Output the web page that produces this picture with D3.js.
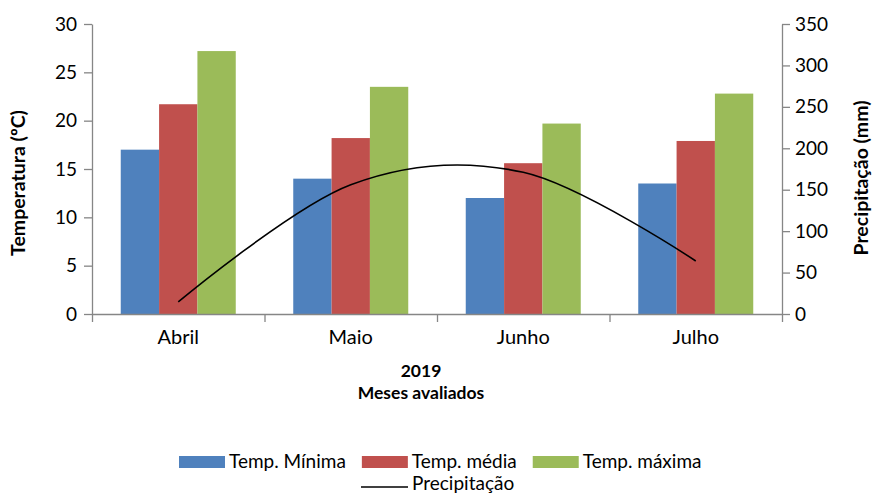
<html>
  <head>
    <script src="https://d3js.org/d3.v7.min.js"></script>
    <style>
      body { margin: 0; background: #fff; }
      text { font-family: Lato, "Open Sans", sans-serif; fill: #000; }
    </style>
  </head>
  <body>
    <svg width="872" height="493" id="chart"></svg>
    <script>
      // data
      const months = ["Abril", "Maio", "Junho", "Julho"];
      const series = ["Temp. Mínima", "Temp. média", "Temp. máxima"];
      const tempMin = [17, 14, 12, 13.5];
      const tempMed = [21.7, 18.2, 15.6, 17.9];
      const tempMax = [27.2, 23.5, 19.7, 22.8];
      const precip = [14.5, 156, 171, 64];
      const colors = ["#4F81BD", "#C0504D", "#9BBB59"];
      const tempTicks = [0, 5, 10, 15, 20, 25, 30];
      const precipTicks = [0, 50, 100, 150, 200, 250, 300, 350];
      const xTitle = ["2019", "Meses avaliados"];

      const svg = d3.select("svg#chart");
      const plotLeft = 92, plotRight = 782, plotTop = 24, plotBottom = 314;
      const axisColor = "#868686";

      const x = d3
        .scaleBand()
        .domain(months)
        .range([plotLeft, plotRight])
        .paddingInner(1 / 3)
        .paddingOuter(1 / 6);
      const xSub = d3.scaleBand().domain(series).range([0, x.bandwidth()]);
      const xEdges = d3.scaleLinear().domain([0, months.length]).range([plotLeft, plotRight]);

      const yTemp = d3.scaleLinear().domain([0, 30]).range([plotBottom, plotTop]);
      const yPrec = d3.scaleLinear().domain([0, 350]).range([plotBottom, plotTop]);

      // bars
      const rows = months.map((m, i) => ({
        month: m,
        values: [tempMin[i], tempMed[i], tempMax[i]],
      }));
      rows.forEach((r) => {
        r.values.forEach((v, j) => {
          svg
            .append("rect")
            .attr("x", x(r.month) + xSub(series[j]))
            .attr("y", yTemp(v))
            .attr("width", xSub.bandwidth())
            .attr("height", yTemp(0) - yTemp(v))
            .attr("fill", colors[j]);
        });
      });

      // precipitation curve
      const line = d3
        .line()
        .x((d, i) => x(months[i]) + x.bandwidth() / 2)
        .y((d) => yPrec(d))
        .curve(d3.curveCatmullRom.alpha(0));
      svg
        .append("path")
        .attr("d", line(precip))
        .attr("fill", "none")
        .attr("stroke", "#000")
        .attr("stroke-width", 1.6);

      function styleAxis(g) {
        g.select(".domain").attr("stroke", axisColor).attr("stroke-width", 1.3);
        g.selectAll(".tick line").attr("stroke", axisColor).attr("stroke-width", 1.3);
        g.selectAll("text").style("font-size", "19px").attr("fill", "#222");
      }

      // left axis
      svg
        .append("g")
        .attr("transform", `translate(${plotLeft},0)`)
        .call(d3.axisLeft(yTemp).tickValues(tempTicks).tickSize(8).tickSizeOuter(0).tickPadding(7))
        .call(styleAxis);

      // right axis
      svg
        .append("g")
        .attr("transform", `translate(${plotRight},0)`)
        .call(d3.axisRight(yPrec).tickValues(precipTicks).tickSize(8).tickSizeOuter(0).tickPadding(5))
        .call(styleAxis);

      // x axis line with boundary ticks
      svg
        .append("g")
        .attr("transform", `translate(0,${plotBottom})`)
        .call(d3.axisBottom(xEdges).ticks(months.length).tickFormat("").tickSize(8).tickSizeOuter(0))
        .call(styleAxis);

      // category labels
      svg
        .append("g")
        .attr("transform", `translate(0,${plotBottom})`)
        .call(d3.axisBottom(x).tickSize(0).tickPadding(16))
        .call((g) => g.select(".domain").remove())
        .call(styleAxis)
        .call((g) => g.selectAll("text").style("font-size", "20px"));

      // axis titles
      svg
        .append("text")
        .attr("transform", "translate(25,183) rotate(-90)")
        .attr("text-anchor", "middle")
        .style("font-size", "19.5px")
        .style("font-weight", "bold")
        .text("Temperatura (ºC)");
      svg
        .append("text")
        .attr("transform", "translate(868,178) rotate(-90)")
        .attr("text-anchor", "middle")
        .style("font-size", "19.5px")
        .style("font-weight", "bold")
        .text("Precipitação (mm)");

      // two-line x title
      xTitle.forEach((s, i) => {
        svg
          .append("text")
          .attr("x", 421)
          .attr("y", 377 + i * 22)
          .attr("text-anchor", "middle")
          .style("font-size", "17.5px")
          .style("font-weight", "bold")
          .text(s);
      });

      // legend row 1: bars
      const legend = svg.append("g");
      let lx = 179;
      series.forEach((s, j) => {
        legend
          .append("rect")
          .attr("x", lx)
          .attr("y", 456)
          .attr("width", 46)
          .attr("height", 12)
          .attr("fill", colors[j]);
        const t = legend
          .append("text")
          .attr("x", lx + 50)
          .attr("y", 468)
          .style("font-size", "19px")
          .attr("fill", "#222")
          .text(s);
        lx += 50 + t.node().getComputedTextLength() + 16;
      });

      // legend row 2: line
      legend
        .append("line")
        .attr("x1", 361)
        .attr("x2", 408)
        .attr("y1", 487)
        .attr("y2", 487)
        .attr("stroke", "#000")
        .attr("stroke-width", 1.6);
      legend
        .append("text")
        .attr("x", 412)
        .attr("y", 490)
        .style("font-size", "19px")
        .attr("fill", "#222")
        .text("Precipitação");
    </script>
  </body>
</html>
